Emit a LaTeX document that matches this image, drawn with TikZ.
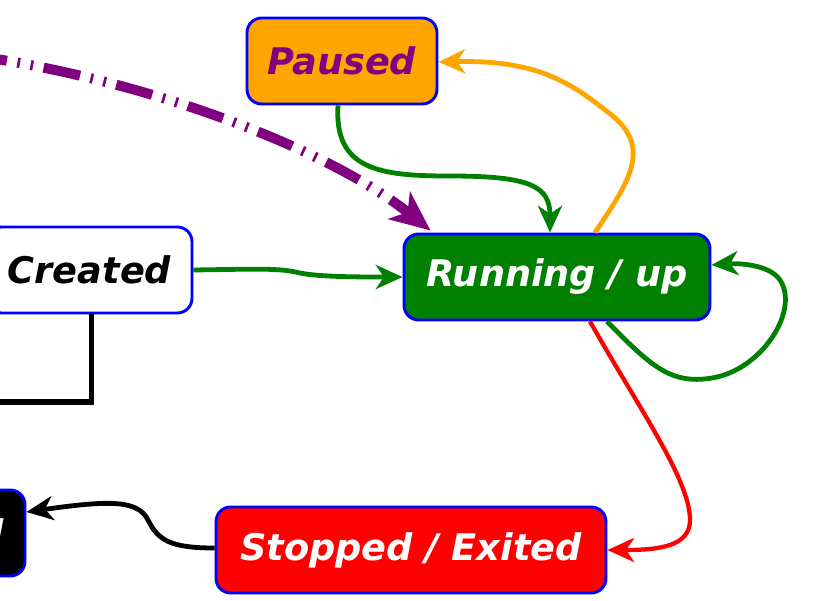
\documentclass[tikz,border=0pt]{standalone}
\usepackage{fontspec}
\setmainfont{DejaVu Sans}
\usetikzlibrary{arrows.meta,calc}
\definecolor{cblue}{HTML}{0000FF}
\definecolor{corange}{HTML}{FFA500}
\definecolor{cgreen}{HTML}{008000}
\definecolor{cred}{HTML}{FF0000}
\definecolor{cpurple}{HTML}{800080}
\tikzset{
  state/.style={draw=cblue, line width=2.2pt, rounded corners=11pt, minimum height=64.5pt,
    inner sep=0pt, font=\fontsize{27.5}{33}\selectfont\bfseries\itshape},
  conn/.style={line width=3.6pt, -{Stealth[length=20pt,width=18pt,inset=6pt]}},
  plain/.style={line width=3.8pt},
}
\begin{document}
\begin{tikzpicture}[x=0.75pt,y=-0.75pt]
\useasboundingbox (0,0) rectangle (814,600);
\clip (0,0) rectangle (814,600);
\node[state, fill=corange, text=cpurple, minimum width=142.5pt] (paused) at (342,61) {Paused};
\node[state, fill=white, text=black, minimum width=153.75pt] (created) at (89.5,270) {Created};
\node[state, fill=cgreen, text=white, minimum width=229.5pt] (running) at (557,277) {Running / up};
\node[state, fill=cred, text=white, minimum width=292.5pt] (stopped) at (411,550) {Stopped / Exited};
\node[state, fill=black, text=white, minimum width=153pt] (deleted) at (-77,533) {Deleted};
\coordinate (offleft) at (-30,402);
\coordinate (purplestart) at (-30,55);
% Created -> Running
\draw[conn, cgreen] (created.east) .. controls (260,269) and (280,268) .. (300,273)
   .. controls (320,277) and (360,277) .. (running.west);
% Paused -> Running
\draw[conn, cgreen] ($(paused.south)+(-4,0)$) .. controls (334,170) and (380,176) .. (450,176)
   .. controls (530,176) and (550,186) .. ($(running.north)+(-7,0)$);
% Running -> Paused
\draw[conn, corange] ($(running.north)+(38,0)$) .. controls (630,180) and (655,145) .. (605,110)
   .. controls (565,78) and (530,60) .. ($(paused.east)+(0,1)$);
% Running self loop
\draw[conn, cgreen] ($(running.south)+(50,0)$) .. controls (650,365) and (670,385) .. (712,378)
   .. controls (762,370) and (800,310) .. (780,280)
   .. controls (770,265) and (740,263) .. ($(running.east)+(0,-12)$);
% Running -> Stopped
\draw[conn, cred, line width=3.2pt] ($(running.south)+(33,0)$) .. controls (640,410) and (690,480) .. (690,520)
   .. controls (690,546) and (660,550) .. (stopped.east);
% Stopped -> Deleted
\draw[conn, black] ($(stopped.west)+(0,-2)$) .. controls (170,548) and (158,540) .. (148,520)
   .. controls (138,500) and (110,500) .. ($(deleted.east)+(0,-21)$);
% Created -> off frame
\draw[plain, black] ($(created.south)+(2,0)$) |- (offleft);
% purple dash-dot-dot
\draw[cpurple, line width=7.5pt, dash pattern=on 28pt off 8pt on 2pt off 8pt on 2pt off 8pt,
   -{Stealth[length=30pt,width=26pt,inset=8pt]}]
   (purplestart) .. controls (150,80) and (330,150) .. ($(running.north west)+(28,-2)$);
\end{tikzpicture}
\end{document}
